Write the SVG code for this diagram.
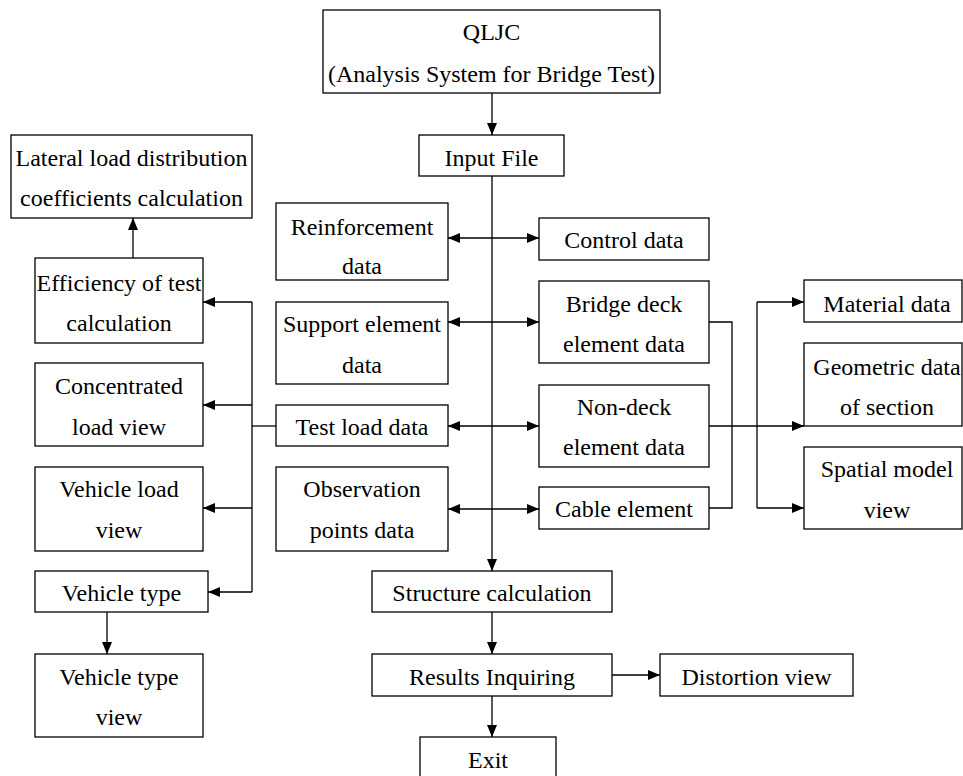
<svg xmlns="http://www.w3.org/2000/svg" width="963" height="776" viewBox="0 0 963 776">
<style>
rect{fill:#fff;stroke:#000;stroke-width:1.3}
text{font-family:"Liberation Serif","Times New Roman",serif;font-size:24px;fill:#000;text-anchor:middle}
.c path,.c line,.c polyline{fill:none;stroke:#000;stroke-width:1.3}
</style>
<defs>
<marker id="ah" markerUnits="userSpaceOnUse" markerWidth="12" markerHeight="10" refX="12" refY="5" orient="auto-start-reverse">
<path d="M0,0 L12,5 L0,10 z" fill="#000"/>
</marker>
</defs>
<g class="c" id="connectors">
<line x1="492" y1="93" x2="492" y2="135" marker-end="url(#ah)"/>
<line x1="492" y1="176" x2="492" y2="571" marker-end="url(#ah)"/>
<line x1="492" y1="612" x2="492" y2="654" marker-end="url(#ah)"/>
<line x1="492" y1="696" x2="492" y2="737" marker-end="url(#ah)"/>
<line x1="612" y1="675" x2="660" y2="675" marker-end="url(#ah)"/>
<line x1="448" y1="238" x2="539" y2="238" marker-start="url(#ah)" marker-end="url(#ah)"/>
<line x1="448" y1="322" x2="539" y2="322" marker-start="url(#ah)" marker-end="url(#ah)"/>
<line x1="448" y1="426" x2="539" y2="426" marker-start="url(#ah)" marker-end="url(#ah)"/>
<line x1="448" y1="509" x2="539" y2="509" marker-start="url(#ah)" marker-end="url(#ah)"/>
<line x1="133" y1="258" x2="133" y2="218" marker-end="url(#ah)"/>
<line x1="107" y1="612" x2="107" y2="654" marker-end="url(#ah)"/>
<line x1="276" y1="426" x2="252" y2="426"/>
<line x1="252" y1="302" x2="252" y2="592"/>
<line x1="252" y1="302" x2="203" y2="302" marker-end="url(#ah)"/>
<line x1="252" y1="405" x2="203" y2="405" marker-end="url(#ah)"/>
<line x1="252" y1="508" x2="203" y2="508" marker-end="url(#ah)"/>
<line x1="252" y1="592" x2="208" y2="592" marker-end="url(#ah)"/>
<polyline points="709,322 732,322 732,508 709,508"/>
<line x1="709" y1="426" x2="804" y2="426" marker-end="url(#ah)"/>
<line x1="757" y1="302" x2="757" y2="508"/>
<line x1="757" y1="302" x2="804" y2="302" marker-end="url(#ah)"/>
<line x1="757" y1="508" x2="804" y2="508" marker-end="url(#ah)"/>
</g>
<g id="qljc"><rect x="323" y="10" width="337" height="83"/><text x="491.5" y="40">QLJC</text><text x="491.5" y="82">(Analysis System for Bridge Test)</text></g>
<g id="input-file"><rect x="419" y="135" width="145" height="41"/><text x="491.5" y="166">Input File</text></g>
<g id="lateral"><rect x="11" y="135" width="241" height="83"/><text x="131.5" y="166">Lateral load distribution</text><text x="131.5" y="206">coefficients calculation</text></g>
<g id="reinforcement"><rect x="276" y="203" width="172" height="77"/><text x="362" y="235">Reinforcement</text><text x="362" y="274">data</text></g>
<g id="control"><rect x="539" y="218" width="170" height="42"/><text x="624" y="248">Control data</text></g>
<g id="efficiency"><rect x="35" y="258" width="168" height="85"/><text x="119" y="291">Efficiency of test</text><text x="119" y="331">calculation</text></g>
<g id="support"><rect x="276" y="302" width="172" height="82"/><text x="362" y="332">Support element</text><text x="362" y="373">data</text></g>
<g id="bridge-deck"><rect x="539" y="281" width="170" height="82"/><text x="624" y="312">Bridge deck</text><text x="624" y="352">element data</text></g>
<g id="material"><rect x="804" y="280" width="158" height="42"/><text x="887" y="312">Material data</text></g>
<g id="geometric"><rect x="804" y="343" width="158" height="83"/><text x="887" y="375">Geometric data</text><text x="887" y="415">of section</text></g>
<g id="concentrated"><rect x="35" y="363" width="168" height="83"/><text x="119" y="394">Concentrated</text><text x="119" y="435">load view</text></g>
<g id="test-load"><rect x="276" y="405" width="172" height="41"/><text x="362" y="435">Test load data</text></g>
<g id="non-deck"><rect x="539" y="385" width="170" height="82"/><text x="624" y="415">Non-deck</text><text x="624" y="455">element data</text></g>
<g id="spatial"><rect x="804" y="447" width="158" height="82"/><text x="887" y="477">Spatial model</text><text x="887" y="518">view</text></g>
<g id="vehicle-load"><rect x="35" y="467" width="168" height="84"/><text x="119" y="497">Vehicle load</text><text x="119" y="538">view</text></g>
<g id="observation"><rect x="276" y="467" width="172" height="84"/><text x="362" y="497">Observation</text><text x="362" y="538">points data</text></g>
<g id="cable"><rect x="539" y="487" width="170" height="42"/><text x="624" y="517">Cable element</text></g>
<g id="vehicle-type"><rect x="35" y="571" width="173" height="41"/><text x="121.5" y="601">Vehicle type</text></g>
<g id="structure"><rect x="372" y="571" width="240" height="41"/><text x="492" y="601">Structure calculation</text></g>
<g id="vehicle-type-view"><rect x="35" y="654" width="168" height="83"/><text x="119" y="685">Vehicle type</text><text x="119" y="725">view</text></g>
<g id="results"><rect x="372" y="654" width="240" height="42"/><text x="492" y="685">Results Inquiring</text></g>
<g id="distortion"><rect x="660" y="654" width="193" height="42"/><text x="756.5" y="685">Distortion view</text></g>
<g id="exit"><rect x="420" y="737" width="136" height="45"/><text x="488" y="768">Exit</text></g>
</svg>
